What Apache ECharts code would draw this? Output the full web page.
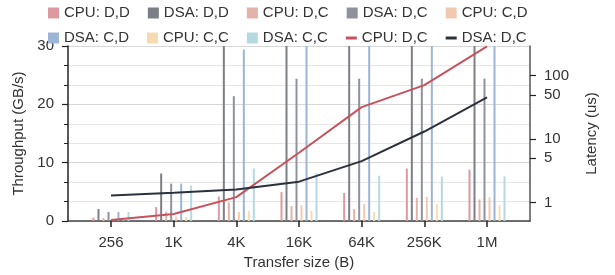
<!DOCTYPE html>
<html>
<head>
<meta charset="utf-8">
<script src="https://cdn.jsdelivr.net/npm/echarts@6/dist/echarts.min.js"></script>
<style>
  html, body { margin: 0; padding: 0; background: #fff; }
  #main { width: 615px; height: 275px; }
</style>
</head>
<body>
<div id="main"></div>
<script>
// transfer sizes
var categories = ['256', '1K', '4K', '16K', '64K', '256K', '1M']

// throughput (GB/s), values above 30 are cut off by the axis
var cpuDD = [0.55, 2.4, 4.2, 4.95, 4.8, 9.0, 8.8]
var dsaDD = [2.05, 8.15, 40, 40, 40, 40, 40]
var cpuDC = [0.5, 1.6, 3.2, 2.55, 2.05, 3.95, 3.7]
var dsaDC = [1.55, 6.4, 21.4, 24.4, 24.4, 24.4, 24.4]
var cpuCD = [0.1, 0.75, 1.55, 2.7, 2.9, 4.1, 4.05]
var dsaCD = [1.55, 6.4, 29.4, 40, 40, 40, 40]
var cpuCC = [0.1, 0.65, 1.75, 1.75, 1.55, 2.9, 2.7]
var dsaCC = [1.55, 6.1, 9.0, 8.15, 7.75, 7.6, 7.65]

// latency (us)
var cpuLat = [0.53, 0.66, 1.22, 6.1, 32, 71, 290]
var dsaLat = [1.3, 1.43, 1.61, 2.14, 4.5, 13.2, 45.7]

var latTicks = [1, 5, 10, 50, 100]
var sizeTicks = [0, 1, 2, 3, 4, 5, 6]

var font = 'Liberation Sans, Arial, sans-serif'
var txt = '#333'

function pts(arr) {
  return arr.map(function (v, i) { return [i, v] })
}

var barDefs = [
  ['CPU: D,D', cpuDD, '#dc9aa0'],
  ['DSA: D,D', dsaDD, '#7c7f86'],
  ['CPU: D,C', cpuDC, '#e4b2a8'],
  ['DSA: D,C', dsaDC, '#8f929c'],
  ['CPU: C,D', cpuCD, '#f3c8b0'],
  ['DSA: C,D', dsaCD, '#9db5d5'],
  ['CPU: C,C', cpuCC, '#f5dab2'],
  ['DSA: C,C', dsaCC, '#b4d9e1']
]

var series = barDefs.map(function (d) {
  return {
    name: d[0],
    type: 'bar',
    data: pts(d[1]),
    barWidth: 2,
    barGap: '150%',
    itemStyle: { color: d[2] },
    xAxisIndex: 0,
    yAxisIndex: 0
  }
})

series.push({
  name: 'CPU: D,C lat',
  type: 'line',
  yAxisIndex: 1,
  data: pts(cpuLat),
  symbol: 'none',
  lineStyle: { color: '#c7525c', width: 2 },
  itemStyle: { color: '#c7525c' },
  z: 5
})
series.push({
  name: 'DSA: D,C lat',
  type: 'line',
  yAxisIndex: 1,
  data: pts(dsaLat),
  symbol: 'none',
  lineStyle: { color: '#2b313d', width: 2 },
  itemStyle: { color: '#2b313d' },
  z: 5
})

var legendBase = {
  orient: 'horizontal',
  left: 48,
  padding: 0,
  itemWidth: 11,
  itemHeight: 11,
  itemGap: 18,
  symbolKeepAspect: true,
  textStyle: { fontSize: 15, color: txt, fontFamily: font },
  formatter: function (name) { return name.replace(' lat', '') }
}

// short thick dash for the two latency lines, plain squares for the bars
function legendItem(name) {
  if (name.indexOf(' lat') > 0) {
    return { name: name, icon: 'path://M0,0 L11,0 L11,3 L0,3 Z' }
  }
  return { name: name, icon: 'rect' }
}

var myChart = echarts.init(document.getElementById('main'))
var option = {
  animation: false,
  textStyle: { fontFamily: font },
  legend: [
    Object.assign({}, legendBase, {
      top: 5.5,
      data: ['CPU: D,D', 'DSA: D,D', 'CPU: D,C', 'DSA: D,C', 'CPU: C,D'].map(legendItem)
    }),
    Object.assign({}, legendBase, {
      top: 30.5,
      data: ['DSA: C,D', 'CPU: C,C', 'DSA: C,C', 'CPU: D,C lat', 'DSA: D,C lat'].map(legendItem)
    })
  ],
  grid: { left: 68, right: 85, top: 46, bottom: 50.5, containLabel: false },
  xAxis: {
    type: 'value',
    min: -0.686,
    max: 6.686,
    name: 'Transfer size (B)',
    nameLocation: 'middle',
    nameGap: 34,
    nameTextStyle: { fontSize: 15, color: txt, fontFamily: font },
    axisLine: { show: true, onZero: false, lineStyle: { color: '#444', width: 1.5 } },
    axisTick: { show: true, customValues: sizeTicks, length: 6, lineStyle: { color: '#222', width: 1.5 } },
    axisLabel: {
      customValues: sizeTicks,
      margin: 14,
      fontSize: 15,
      color: txt,
      fontFamily: font,
      formatter: function (v) { return categories[Math.round(v)] }
    },
    splitLine: { show: false }
  },
  yAxis: [
    {
      type: 'value',
      min: 0,
      max: 30,
      interval: 10,
      position: 'left',
      name: 'Throughput (GB/s)',
      nameLocation: 'middle',
      nameRotate: 90,
      nameGap: 38,
      nameTextStyle: { fontSize: 15, color: txt, fontFamily: font },
      axisLine: { show: true, onZero: false, lineStyle: { color: '#222', width: 1.5 } },
      axisTick: { show: true, length: 6, lineStyle: { color: '#222', width: 1.2 } },
      minorTick: { show: true, splitNumber: 3, length: 4, lineStyle: { color: '#222', width: 1 } },
      axisLabel: { margin: 14, fontSize: 15, color: txt, fontFamily: font },
      splitLine: { show: true, lineStyle: { color: '#d6d6d6', width: 1 } },
      minorSplitLine: { show: true, lineStyle: { color: '#e6e6e6', width: 1 } }
    },
    {
      type: 'log',
      logBase: 10,
      min: 0.513,
      max: 294,
      position: 'right',
      name: 'Latency (us)',
      nameLocation: 'middle',
      nameRotate: 90,
      nameGap: 54,
      nameTextStyle: { fontSize: 15, color: txt, fontFamily: font },
      axisLine: { show: true, onZero: false, lineStyle: { color: '#555', width: 1.5 } },
      axisTick: { show: true, customValues: latTicks, length: 6, lineStyle: { color: '#222', width: 1.2 } },
      minorTick: { show: false },
      axisLabel: {
        customValues: latTicks,
        margin: 14,
        fontSize: 15,
        color: txt,
        fontFamily: font,
        formatter: function (v) { return String(Math.round(v)) }
      },
      splitLine: { show: false }
    }
  ],
  series: series
}
myChart.setOption(option)
</script>
</body>
</html>
